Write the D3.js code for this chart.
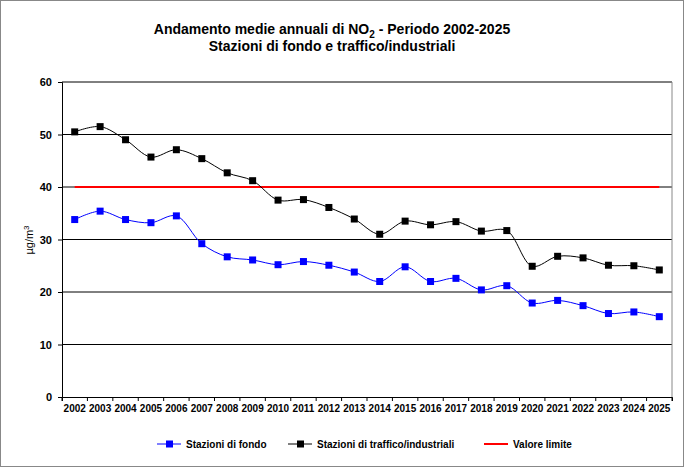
<!DOCTYPE html>
<html><head><meta charset="utf-8">
<script src="https://cdn.jsdelivr.net/npm/d3@7"></script>
<style>body{margin:0;background:#fff}svg{font-family:Arial,"Liberation Sans",sans-serif}</style>
</head><body><svg width="685" height="468"></svg>
<script>
const years = d3.range(2002, 2026).map(String);
const traffico = [50.5, 51.5, 49.0, 45.7, 47.1, 45.4, 42.7, 41.2, 37.5, 37.6, 36.1, 33.9, 31.0, 33.5, 32.8, 33.4, 31.6, 31.7, 24.9, 26.8, 26.5, 25.1, 25.0, 24.2];
const fondo = [33.8, 35.4, 33.8, 33.2, 34.5, 29.2, 26.7, 26.1, 25.2, 25.8, 25.1, 23.8, 22.0, 24.8, 22.0, 22.6, 20.4, 21.2, 17.9, 18.4, 17.4, 15.9, 16.2, 15.3];
const limite = 40;
const yTicks = [0, 10, 20, 30, 40, 50, 60];

const svg = d3.select("svg");
svg.append("rect").attr("x", 0.5).attr("y", 0.5).attr("width", 683).attr("height", 466)
  .attr("fill", "none").attr("stroke", "#888");

const pL = 62, pR = 672, pT = 82, pB = 397;
const x = d3.scaleBand().domain(years).range([pL, pR]);
const y = d3.scaleLinear().domain([0, 60]).range([pB, pT]);
const cx = d => x(d) + x.bandwidth() / 2;

// grid
svg.append("g").selectAll("line").data(yTicks.slice(1)).join("line")
  .attr("x1", pL).attr("x2", pR).attr("y1", d => y(d)).attr("y2", d => y(d))
  .attr("stroke", "#000").attr("stroke-width", 1);
svg.append("line").attr("x1", pR).attr("x2", pR).attr("y1", pT).attr("y2", pB).attr("stroke", "#888");

const yAxis = svg.append("g").attr("transform", `translate(${pL},0)`)
  .call(d3.axisLeft(y).tickValues(yTicks).tickSize(4).tickPadding(6));
const xAxis = svg.append("g").attr("transform", `translate(0,${pB})`)
  .call(d3.axisBottom(x).tickSize(4).tickPadding(4));
[yAxis, xAxis].forEach(a => {
  a.selectAll("text").attr("font-size", 11).attr("font-weight", "bold").attr("fill", "#000").attr("font-family", "Arial, Liberation Sans, sans-serif");
  a.select(".domain").attr("stroke", "#000");
});
xAxis.selectAll(".tick").attr("transform", d => `translate(${x(d)},0)`);
xAxis.selectAll(".tick text").attr("x", x.bandwidth() / 2).attr("font-size", 10);
xAxis.append("line").attr("x1", pR).attr("x2", pR).attr("y1", 0).attr("y2", 4).attr("stroke", "#000");

// limit line
svg.append("line").attr("x1", cx(years[0])).attr("x2", cx(years[years.length - 1]))
  .attr("y1", y(limite)).attr("y2", y(limite)).attr("stroke", "#ff0000").attr("stroke-width", 2);

const line = d3.line().x((d, i) => cx(years[i])).y(d => y(d)).curve(d3.curveCatmullRom.alpha(0.5));
function series(data, color) {
  svg.append("path").attr("d", line(data)).attr("fill", "none").attr("stroke", color).attr("stroke-width", 1);
  svg.append("g").selectAll("rect").data(data).join("rect")
    .attr("x", (d, i) => cx(years[i]) - 3.5).attr("y", d => y(d) - 3.5)
    .attr("width", 7).attr("height", 7).attr("fill", color);
}
series(traffico, "#000");
series(fondo, "#0000ff");

// titles
const t = svg.append("text").attr("x", 332).attr("y", 34).attr("text-anchor", "middle")
  .attr("font-size", 14).attr("font-weight", "bold");
t.append("tspan").text("Andamento medie annuali di NO");
t.append("tspan").attr("font-size", 10).attr("dy", 4).text("2");
t.append("tspan").attr("dy", -4).text(" - Periodo 2002-2025");
svg.append("text").attr("x", 332).attr("y", 51).attr("text-anchor", "middle")
  .attr("font-size", 14).attr("font-weight", "bold").text("Stazioni di fondo e traffico/industriali");

const yl = svg.append("text").attr("transform", "translate(33,240) rotate(-90)").attr("text-anchor", "middle").attr("font-size", 11);
yl.append("tspan").text("µg/m");
yl.append("tspan").attr("font-size", 8).attr("dy", -4).text("3");

// legend
const legend = [
  {label: "Stazioni di fondo", color: "#0000ff", x: 157, marker: true},
  {label: "Stazioni di traffico/industriali", color: "#000", x: 288, marker: true},
  {label: "Valore limite", color: "#ff0000", x: 484, marker: false}
];
const lg = svg.append("g").selectAll("g").data(legend).join("g").attr("transform", d => `translate(${d.x},444)`);
lg.append("line").attr("x1", 0).attr("x2", 24).attr("stroke", d => d.color).attr("stroke-width", d => d.marker ? 1 : 2);
lg.filter(d => d.marker).append("rect").attr("x", 9).attr("y", -3.5).attr("width", 7).attr("height", 7).attr("fill", d => d.color);
lg.append("text").attr("x", 29).attr("y", 4).attr("font-size", 10).attr("font-weight", "bold").text(d => d.label);
</script></body></html>
